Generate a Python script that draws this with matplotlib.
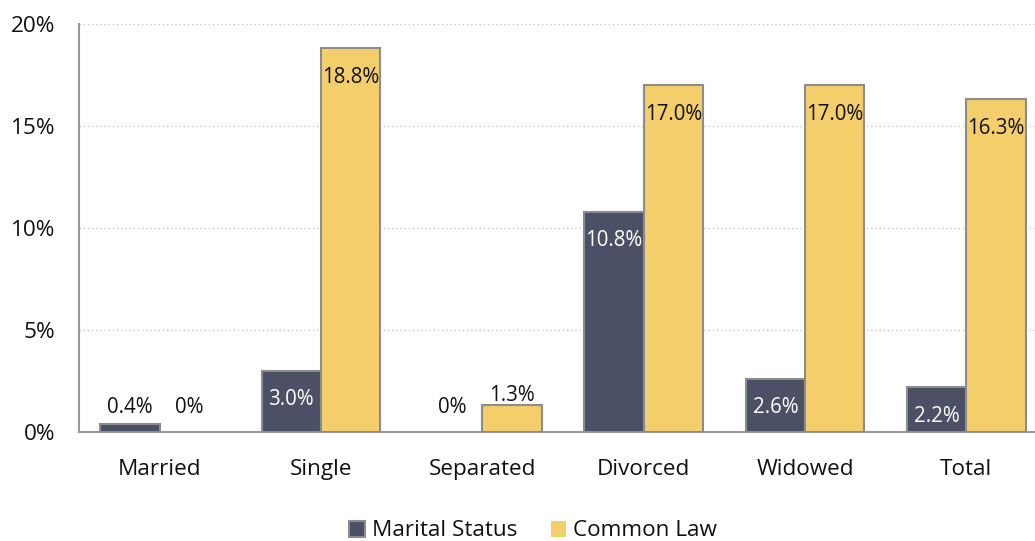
import matplotlib
matplotlib.use("Agg")
import matplotlib.pyplot as plt
import numpy as np
from matplotlib.ticker import FuncFormatter, MultipleLocator

plt.rcParams['font.family'] = ['Open Sans', 'DejaVu Sans']

categories = ["Married", "Single", "Separated", "Divorced", "Widowed", "Total"]
marital_status = [0.4, 3.0, 0.0, 10.8, 2.6, 2.2]
common_law = [0.0, 18.8, 1.3, 17.0, 17.0, 16.3]
series_names = ["Marital Status", "Common Law"]

dark = "#4B5066"
yellow = "#F3CE6B"
edge = "#8C8C8C"

W, H = 1035, 541
fig = plt.figure(figsize=(W / 100, H / 100), dpi=100)
ax = fig.add_axes([79 / W, (H - 432) / H, (1047 - 79) / W, (432 - 24) / H])

x = np.arange(len(categories))
bw = 0.368
b1 = ax.bar(x - bw / 2, marital_status, bw, color=dark,
            edgecolor=[edge if v > 0 else "none" for v in marital_status], linewidth=1.5,
            label=series_names[0], zorder=3)
b2 = ax.bar(x + bw / 2, common_law, bw, color=yellow,
            edgecolor=[edge if v > 0 else "none" for v in common_law], linewidth=1.5,
            label=series_names[1], zorder=3)

ax.set_xlim(-0.5, 5.5)
ax.set_ylim(0, 20)
ax.yaxis.set_major_locator(MultipleLocator(5))
ax.yaxis.set_major_formatter(FuncFormatter(lambda v, p: f"{v:.0f}%"))
ax.set_xticks(x)
ax.set_xticklabels(categories)
ax.tick_params(axis='both', length=0, labelsize=16.2, colors="#111111")
ax.tick_params(axis='x', pad=19.5)
ax.tick_params(axis='y', pad=17)

ax.grid(axis='y', color="#C8C8C8", linestyle=(0, (1, 2)), linewidth=1, zorder=0)
for s in ["top", "right"]:
    ax.spines[s].set_visible(False)
for s in ["left", "bottom"]:
    ax.spines[s].set_color("#9A9A9A")
    ax.spines[s].set_linewidth(1.5)


def label(bars, vals, inside_color):
    for rect, v in zip(bars, vals):
        cx = rect.get_x() + rect.get_width() / 2
        txt = f"{v:.1f}%" if v > 0 else "0%"
        if v >= 2.0:
            ax.annotate(txt, (cx, v), xytext=(0, -29 * 0.72), textcoords="offset points",
                        ha="center", va="center", fontsize=14.8, color=inside_color, zorder=4)
        else:
            ax.annotate(txt, (cx, max(v + 0.5, 1.2)), ha="center", va="center",
                        fontsize=14.8, color="#111111", zorder=4)


label(b1, marital_status, "white")
label(b2, common_law, "#111111")

leg = fig.legend(handles=[b1, b2], labels=series_names, loc="center",
                 bbox_to_anchor=(533 / W, (H - 531) / H), ncol=2, frameon=False,
                 fontsize=16.2, handlelength=0.7, handleheight=0.7, handletextpad=0.3,
                 columnspacing=1.5)
for t in leg.get_texts():
    t.set_color("#111111")

fig.savefig("out.png", dpi=100)
